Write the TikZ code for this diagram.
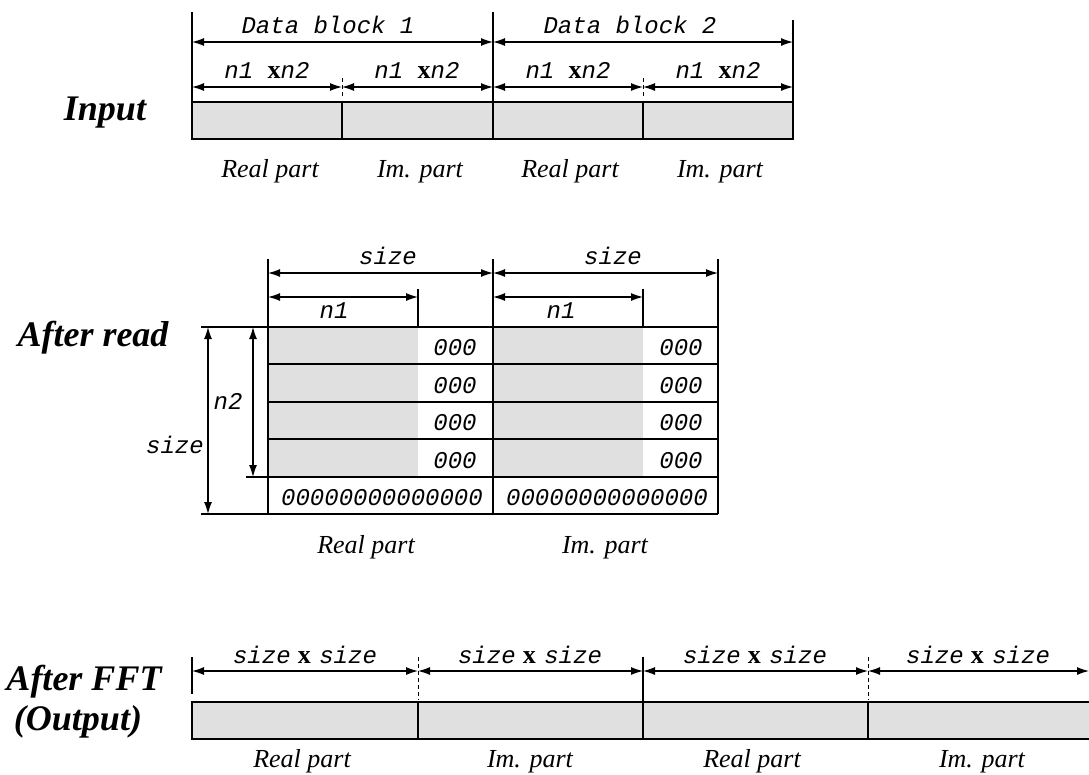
\documentclass[tikz,border=0pt]{standalone}
\usepackage{fontspec}
\setmainfont{Liberation Serif}
\setmonofont{Liberation Mono}
\usepackage{tikz}
\usetikzlibrary{arrows.meta}

\newcommand{\monolbl}{\fontsize{24}{28}\selectfont\ttfamily\itshape}
\newcommand{\partfont}{\fontsize{26}{30}\selectfont\rmfamily\itshape}
\newcommand{\stagefont}{\fontsize{36}{40}\selectfont\rmfamily\bfseries\itshape}
\newcommand{\crossx}{{\fontsize{26}{30}\selectfont\rmfamily\upshape\bfseries x}}

\tikzset{
  dim/.style={{Latex[length=12pt,width=8pt]}-{Latex[length=12pt,width=8pt]}, line width=1.2pt},
  ext/.style={line width=1.2pt},
  tick/.style={line width=1pt, dash pattern=on 4pt off 3pt},
  cell/.style={draw, line width=1.5pt, fill=black!12},
  codelbl/.style={font=\monolbl, inner sep=0pt, anchor=base},
  partlbl/.style={font=\partfont, inner sep=0pt, anchor=base},
  stagelbl/.style={font=\stagefont, inner sep=0pt, anchor=base},
}

\begin{document}
\begin{tikzpicture}[x=1pt,y=-1pt]
		\clip (0,0) rectangle (1089,774);
		\fill[white] (0,0) rectangle (1089,774);

		%Input: two data blocks of real and imaginary parts
		\node[stagelbl] (input) at (105,120) {Input};
		\foreach \xa/\xb in {192/342,342/493,493/643,643/793}
		\draw[cell] (\xa,102) rectangle (\xb,139);
		\draw[ext] (192,12)--(192,102);
		\draw[ext] (493,12)--(493,102);
		\draw[ext] (793,20)--(793,102);
		\draw[tick] (342,78)--(342,98);
		\draw[tick] (643,78)--(643,98);
		\foreach \x [count=\i] in {192,493,793}
		\coordinate (blk\i) at (\x,42);
		\foreach \x [count=\i] in {192,342,493,643,793}
		\coordinate (half\i) at (\x,87);
		\draw[dim] (blk1)--(blk2);
		\draw[dim] (blk2)--(blk3);
		\foreach \i [evaluate=\i as \j using int(\i+1)] in {1,2,3,4}
		\draw[dim] (half\i)--(half\j);
		\node[codelbl] (blklbl1) at (328,33) {Data block 1};
		\node[codelbl] (blklbl2) at (630,33) {Data block 2};
		\foreach \x [count=\i] in {267,417,568,718}
		\node[codelbl] (nnlbl\i) at (\x,78) {n1 \crossx n2};
		\node[partlbl] (inre1) at (270,177) {Real part};
		\node[partlbl] (inim1) at (420,177) {Im. part};
		\node[partlbl] (inre2) at (570,177) {Real part};
		\node[partlbl] (inim2) at (720,177) {Im. part};

		%After read: zero padded size x size arrays
		\node[stagelbl] (read) at (93,346) {After read};
		\fill[black!12] (268,327) rectangle (418,477);
		\fill[black!12] (493,327) rectangle (643,477);
		\draw[ext] (201,327)--(718,327);
		\foreach \y in {364,402,439}
		\draw[ext] (268,\y)--(718,\y);
		\draw[ext] (246,477)--(718,477);
		\draw[ext] (201,514)--(718,514);
		\foreach \x in {268,493,718}
		\draw[ext] (\x,259)--(\x,514);
		\draw[ext] (418,289)--(418,327);
		\draw[ext] (643,289)--(643,327);
		\coordinate (sz1) at (268,273);
		\coordinate (sz2) at (493,273);
		\coordinate (sz3) at (718,273);
		\draw[dim] (sz1)--(sz2);
		\draw[dim] (sz2)--(sz3);
		\draw[dim] (268,297)--(418,297);
		\draw[dim] (493,297)--(643,297);
		\draw[dim] (208,327)--(208,514);
		\draw[dim] (253,327)--(253,477);
		\node[codelbl] (szlbl1) at (388,264) {size};
		\node[codelbl] (szlbl2) at (613,264) {size};
		\node[codelbl] (nlbl1) at (334,318) {n1};
		\node[codelbl] (nlbl2) at (561,318) {n1};
		\node[codelbl] (n2lbl) at (228,409) {n2};
		\node[codelbl] (szlbl3) at (175,453) {size};
		\foreach \y in {355,393,430,468}{
		\node[codelbl] at (455,\y) {000};
		\node[codelbl] at (681,\y) {000};}
		\node[codelbl] (pad1) at (382,505) {00000000000000};
		\node[codelbl] (pad2) at (607,505) {00000000000000};
		\node[partlbl] (rdre) at (366,553) {Real part};
		\node[partlbl] (rdim) at (605,553) {Im. part};

		%After FFT: output blocks
		\node[stagelbl] (fft) at (84,690) {After FFT};
		\node[stagelbl] (output) at (78,730) {(Output)};
		\foreach \xa/\xb in {192/418,418/643,643/868,868/1095}
		\draw[cell] (\xa,702) rectangle (\xb,739);
		\draw[ext] (192,657)--(192,694);
		\draw[ext] (643,657)--(643,702);
		\draw[tick] (418,657)--(418,700);
		\draw[tick] (868,657)--(868,700);
		\foreach \x [count=\i] in {192,418,643,868,1089}
		\coordinate (out\i) at (\x,671);
		\foreach \i [evaluate=\i as \j using int(\i+1)] in {1,2,3,4}
		\draw[dim] (out\i)--(out\j);
		\foreach \x [count=\i] in {305,530,755,978}
		\node[codelbl] (sslbl\i) at (\x,663) {size\hspace{0.3em}\crossx\hspace{0.35em}size};
		\node[partlbl] (outre1) at (302,767) {Real part};
		\node[partlbl] (outim1) at (530,767) {Im. part};
		\node[partlbl] (outre2) at (752,767) {Real part};
		\node[partlbl] (outim2) at (982,767) {Im. part};
		\end{tikzpicture}
\end{document}
